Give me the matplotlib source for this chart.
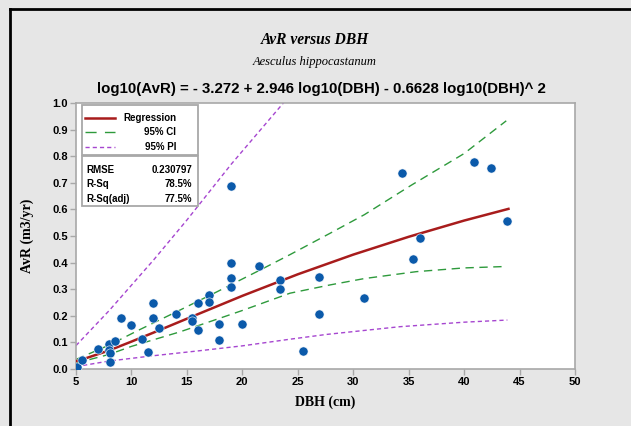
import matplotlib
matplotlib.use("Agg")
import matplotlib.pyplot as plt
from matplotlib.lines import Line2D
from matplotlib.patches import Rectangle

# ---- data ----
dbh = [5.06, 5.5, 6.96, 8.0, 8.0, 8.05, 8.1, 8.5, 9.03, 9.96, 10.98, 11.46, 11.97, 11.97,
       12.45, 14.0, 15.5, 15.5, 15.97, 15.97, 16.96, 16.96, 17.93, 17.93, 18.95, 18.95,
       18.97, 18.95, 19.99, 21.46, 23.4, 23.4, 25.5, 26.94, 26.94, 31.0, 34.42, 35.39,
       35.99, 40.9, 42.46, 43.9]
avr = [0.006, 0.034, 0.074, 0.093, 0.07, 0.059, 0.026, 0.107, 0.193, 0.164, 0.114, 0.063,
       0.247, 0.193, 0.155, 0.207, 0.19, 0.18, 0.247, 0.148, 0.28, 0.253, 0.169, 0.108,
       0.688, 0.397, 0.341, 0.307, 0.169, 0.388, 0.336, 0.30, 0.068, 0.346, 0.207, 0.267,
       0.737, 0.415, 0.492, 0.777, 0.757, 0.558]

fit_x = [5, 6, 8, 10, 12, 15, 20, 25, 30, 35, 40, 44]
fit_y = [0.029, 0.042, 0.070, 0.103, 0.137, 0.189, 0.275, 0.356, 0.430, 0.497, 0.558, 0.602]

ci_up_x = [5, 8, 10.5, 14.4, 17.7, 21.6, 24.3, 27.9, 31, 35.2, 40, 43.8]
ci_up_y = [0.036, 0.09, 0.143, 0.222, 0.29, 0.372, 0.43, 0.51, 0.58, 0.69, 0.81, 0.933]
ci_lo_x = [5, 8, 10, 14.4, 17.7, 20, 24.3, 27.9, 31, 35.7, 40, 43.5]
ci_lo_y = [0.022, 0.055, 0.085, 0.14, 0.187, 0.22, 0.285, 0.316, 0.34, 0.366, 0.38, 0.385]

pi_up_x = [5, 8, 12, 15, 19, 23.7, 26]
pi_up_y = [0.088, 0.22, 0.41, 0.56, 0.77, 1.0, 1.12]
pi_lo_x = [5, 8, 12, 16, 20, 24.3, 27.6, 34.2, 40, 43.9]
pi_lo_y = [0.009, 0.03, 0.05, 0.068, 0.087, 0.112, 0.13, 0.159, 0.176, 0.184]

x_ticks = [5, 10, 15, 20, 25, 30, 35, 40, 45, 50]
y_ticks = [0.0, 0.1, 0.2, 0.3, 0.4, 0.5, 0.6, 0.7, 0.8, 0.9, 1.0]

stats_names = ["RMSE", "R-Sq", "R-Sq(adj)"]
stats_values = ["0.230797", "78.5%", "77.5%"]
legend_labels = ["Regression", "95% CI", "95% PI"]

# ---- colours ----
BG = "#e6e6e6"
RED = "#a81c1c"
GREEN = "#2e9a3c"
PURPLE = "#a646d0"
BLUE = "#0b5aaa"
FRAME = "#a8a8a8"

W, H = 631, 426
fig = plt.figure(figsize=(W / 100, H / 100), dpi=100, facecolor=BG)

ax = fig.add_axes([76 / W, 1 - 369 / H, (575 - 76) / W, (369 - 103) / H])
ax.set_facecolor("white")
ax.set_xlim(5, 50)
ax.set_ylim(0, 1.0)

ax.plot(pi_up_x, pi_up_y, color=PURPLE, lw=1.0, dashes=(3, 2.2), zorder=2)
ax.plot(pi_lo_x, pi_lo_y, color=PURPLE, lw=1.0, dashes=(3, 2.2), zorder=2)
ax.plot(ci_up_x, ci_up_y, color=GREEN, lw=1.0, dashes=(6, 4), zorder=2)
ax.plot(ci_lo_x, ci_lo_y, color=GREEN, lw=1.0, dashes=(6, 4), zorder=2)
ax.plot(fit_x, fit_y, color=RED, lw=1.8, zorder=3)
ax.plot(dbh, avr, "o", color=BLUE, ms=6.6, mec="white", mew=0.4, zorder=4)

for s in ax.spines.values():
    s.set_color(FRAME)
    s.set_linewidth(1.2)
ax.set_xticks(x_ticks)
ax.set_xticklabels([str(v) for v in x_ticks])
ax.set_yticks(y_ticks)
ax.set_yticklabels([f"{v:.1f}" for v in y_ticks])
ax.tick_params(direction="out", length=4, width=1, color=FRAME, pad=2)
for lab in ax.get_xticklabels() + ax.get_yticklabels():
    lab.set_fontfamily("Liberation Sans")
    lab.set_fontweight("bold")
    lab.set_fontsize(8)

ax.set_xlabel("DBH (cm)", fontfamily="Liberation Serif", fontweight="bold", fontsize=10, labelpad=6)
ax.set_ylabel("AvR (m3/yr)", fontfamily="Liberation Serif", fontweight="bold", fontsize=10, labelpad=13)

# ---- legend boxes drawn in pixel-like figure coordinates ----
def fx(px):
    return px / W

def fy(py):
    return 1 - py / H

for (x0, y0, x1, y1) in [(81.5, 104.5, 197.5, 154.5), (81.5, 156.5, 197.5, 205.5)]:
    fig.add_artist(Rectangle((fx(x0), fy(y1)), fx(x1) - fx(x0), fy(y0) - fy(y1),
                             transform=fig.transFigure, facecolor="white",
                             edgecolor=FRAME, lw=1.3, zorder=10))

rows = [117.7, 131.7, 146.7]
styles = [dict(color=RED, lw=1.8), dict(color=GREEN, lw=1.0, dashes=(8, 6)),
          dict(color=PURPLE, lw=1.0, dashes=(3, 2.2))]
for lab, ry, st in zip(legend_labels, rows, styles):
    fig.add_artist(Line2D([fx(85), fx(115)], [fy(ry), fy(ry)], transform=fig.transFigure,
                          zorder=11, **st))
    fig.text(fx(176), fy(ry), lab, ha="right", va="center", fontfamily="Liberation Sans",
             fontweight="bold", fontsize=7, zorder=11)

srows = [170.0, 184.3, 199.0]
for n, v, ry in zip(stats_names, stats_values, srows):
    fig.text(fx(86), fy(ry), n, ha="left", va="center", fontfamily="Liberation Sans",
             fontweight="bold", fontsize=7, zorder=11)
    fig.text(fx(192.5), fy(ry), v, ha="right", va="center", fontfamily="Liberation Sans",
             fontweight="bold", fontsize=7, zorder=11)

# ---- titles ----
fig.text(fx(315), fy(40), "AvR versus DBH", ha="center", va="center",
         fontfamily="Liberation Serif", fontweight="bold", fontstyle="italic", fontsize=11.2)
fig.text(fx(315), fy(62), "Aesculus hippocastanum", ha="center", va="center",
         fontfamily="Liberation Serif", fontstyle="italic", fontsize=9)
fig.text(fx(321), fy(89), "log10(AvR) = - 3.272 + 2.946 log10(DBH) - 0.6628 log10(DBH)^ 2",
         ha="center", va="center", fontfamily="Liberation Sans", fontweight="bold", fontsize=10.8)

# ---- black outer border (top and left) ----
fig.add_artist(Line2D([fx(10), 1], [fy(9), fy(9)], transform=fig.transFigure, color="black", lw=2))
fig.add_artist(Line2D([fx(10), fx(10)], [fy(9), 0], transform=fig.transFigure, color="black", lw=2))

fig.savefig("out.png", dpi=100, facecolor=BG)
